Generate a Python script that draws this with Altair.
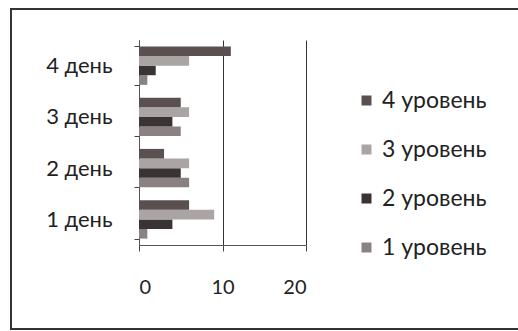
import altair as alt
import pandas as pd

days = ["1 день", "2 день", "3 день", "4 день"]
levels = ["1 уровень", "2 уровень", "3 уровень", "4 уровень"]
level1 = [1, 6, 5, 1]
level2 = [4, 5, 4, 2]
level3 = [9, 6, 6, 6]
level4 = [6, 3, 5, 11]
colors = ["#8a8282", "#3a3333", "#aaa4a4", "#5a5050"]

rows = []
for lvl, vals in zip(levels, [level1, level2, level3, level4]):
    for d, v in zip(days, vals):
        rows.append({"day": d, "level": lvl, "value": v})
df = pd.DataFrame(rows)

FONT = "Lato"
TXT = "#222222"

bars = alt.Chart(df).mark_bar().encode(
    y=alt.Y("day:N", sort=days[::-1],
            scale=alt.Scale(paddingInner=0.25, paddingOuter=0.125),
            axis=alt.Axis(title=None, labelFontSize=22, labelFont=FONT, labelColor=TXT,
                          labelPadding=22, tickBand="extent", tickSize=5,
                          tickColor="#444", domainColor="#555", grid=False)),
    yOffset=alt.YOffset("level:N", sort=levels[::-1]),
    x=alt.X("value:Q", scale=alt.Scale(domain=[0, 20]),
            axis=alt.Axis(title=None, values=[0, 10, 20], labelFontSize=20, labelFont=FONT,
                          labelColor=TXT, labelPadding=26, tickSize=6, tickColor="#444",
                          domainColor="#555", grid=True, gridColor="#333", gridOpacity=1)),
    color=alt.Color("level:N",
                    scale=alt.Scale(domain=levels[::-1], range=colors[::-1]),
                    legend=alt.Legend(title=None, orient="none", legendX=216, legendY=49,
                                      symbolType="square", symbolSize=100, symbolStrokeWidth=0,
                                      labelFontSize=23, labelFont=FONT, labelColor=TXT,
                                      rowPadding=25, labelOffset=4)),
)

border = alt.Chart(pd.DataFrame({"a": [0]})).mark_rect(
    fill=None, stroke="#333", strokeWidth=2
).encode(x=alt.value(-128), x2=alt.value(400), y=alt.value(-31), y2=alt.value(289))

chart = alt.layer(bars, border).properties(
    width=167, height=205,
    autosize=alt.AutoSizeParams(type="none"),
    padding={"left": 139, "top": 40, "right": 212, "bottom": 86},
    background="white",
).configure_view(stroke=None)

chart.save("out.html", embed_options={"renderer": "svg", "actions": False})
